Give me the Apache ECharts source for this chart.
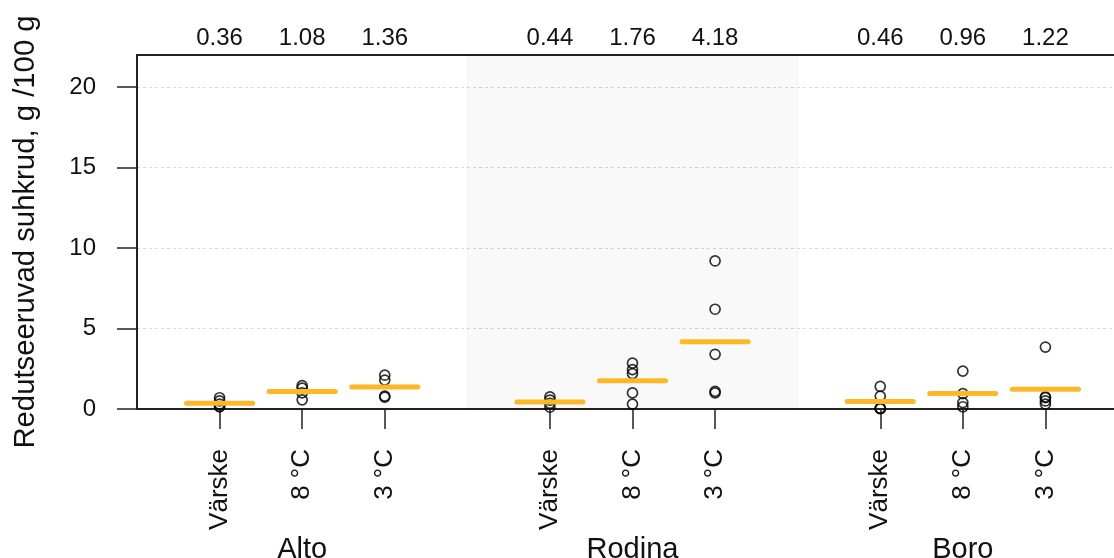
<!DOCTYPE html>
<html>
<head>
<meta charset="utf-8">
<script src="https://cdn.jsdelivr.net/npm/echarts@6/dist/echarts.min.js"></script>
<style>
  html, body { margin: 0; padding: 0; background: #ffffff; }
  #chart { width: 1114px; height: 558px; }
</style>
</head>
<body>
<div id="chart"></div>
<script>
// Potato varieties and storage conditions
const varieties = ['Alto', 'Rodina', 'Boro'];
const storage = ['Värske', '8 °C', '3 °C'];

// Individual measurements, g / 100 g (one inner list per storage condition)
const altoPoints = [
  [0.7, 0.5, 0.3, 0.15, 0.15],
  [1.45, 1.3, 1.0, 0.57],
  [2.1, 1.8, 0.8, 0.74]
];
const rodinaPoints = [
  [0.75, 0.55, 0.35, 0.11],
  [2.85, 2.45, 2.2, 1.0, 0.3],
  [9.2, 6.2, 3.4, 1.1, 1.0]
];
const boroPoints = [
  [1.4, 0.8, 0.05, 0.03, 0.02],
  [2.35, 0.95, 0.4, 0.14],
  [3.85, 0.75, 0.7, 0.5, 0.3]
];

// Group means, shown as bars and as labels above the panel
const means = [0.36, 1.08, 1.36, 0.44, 1.76, 4.18, 0.46, 0.96, 1.22];

// Y axis ticks
const yTicks = [0, 5, 10, 15, 20];

const FONT = 'Liberation Sans, Arial, Helvetica, sans-serif';
const allPoints = [altoPoints, rodinaPoints, boroPoints];

// x slot of each cell: 1-3, 5-7, 9-11 (slots 0, 4, 8, 12 are spacers)
const slotOf = (g, s) => g * 4 + s + 1;
const nSlots = 13;

const tickLabels = new Array(nSlots).fill('');
const groupLabels = new Array(nSlots).fill('');
const meanLabels = new Array(nSlots).fill('');
const meanData = [];
const pointData = [];
varieties.forEach((v, g) => {
  groupLabels[slotOf(g, 1)] = v;
  storage.forEach((s, k) => {
    const x = slotOf(g, k);
    tickLabels[x] = s;
    const m = means[g * 3 + k];
    meanLabels[x] = m.toFixed(2);
    meanData.push([x, m]);
    allPoints[g][k].forEach(val => pointData.push([x, val]));
  });
});

const chart = echarts.init(document.getElementById('chart'), null, { renderer: 'canvas' });

const axisLineStyle = { color: '#222', width: 2 };

chart.setOption({
  animation: false,
  backgroundColor: '#ffffff',
  // the panel runs slightly past the right edge of the page
  grid: { left: 137, width: 991, top: 55, height: 354, containLabel: false, outerBoundsMode: 'none' },
  xAxis: [
    { // numeric axis for the data
      type: 'value', min: 0, max: 12, show: false
    },
    { // treatment labels and ticks
      type: 'category', position: 'bottom', data: tickLabels, boundaryGap: false,
      axisLine: { show: true, onZero: false, lineStyle: axisLineStyle },
      axisTick: { show: true, length: 20, interval: (i, v) => v !== '', lineStyle: { color: '#222', width: 1.5 } },
      axisLabel: { interval: 0, rotate: 90, margin: 40, fontSize: 26, fontFamily: FONT, color: '#111' },
      splitLine: { show: false }
    },
    { // variety names
      type: 'category', position: 'bottom', data: groupLabels, boundaryGap: false,
      axisLine: { show: false, onZero: false },
      axisTick: { show: false },
      axisLabel: { interval: 0, margin: 126, fontSize: 29, fontFamily: FONT, color: '#111' },
      splitLine: { show: false }
    },
    { // group means along the top
      type: 'category', position: 'top', data: meanLabels, boundaryGap: false,
      axisLine: { show: true, onZero: false, lineStyle: axisLineStyle },
      axisTick: { show: false },
      axisLabel: { interval: 0, margin: 5, fontSize: 24, fontFamily: FONT, color: '#111' },
      splitLine: { show: false }
    }
  ],
  yAxis: {
    type: 'value', min: 0, max: 22, interval: 5,
    name: 'Redutseeruvad suhkrud, g /100 g',
    nameLocation: 'middle', nameRotate: 90, nameGap: 97,
    nameTextStyle: { fontSize: 29.3, fontFamily: FONT, color: '#111' },
    axisLine: { show: true, onZero: false, lineStyle: axisLineStyle },
    axisTick: { show: true, length: 20, customValues: yTicks, lineStyle: { color: '#222', width: 1.5 } },
    axisLabel: { customValues: yTicks, margin: 41, fontSize: 24, fontFamily: FONT, color: '#111' },
    splitLine: { show: true, lineStyle: { color: '#d8d8d8', width: 1, type: [3, 3] } }
  },
  series: [
    {
      type: 'scatter',
      xAxisIndex: 0,
      data: pointData,
      symbol: 'circle',
      symbolSize: 10,
      clip: true,
      itemStyle: { color: 'rgba(0,0,0,0)', borderColor: '#000', borderWidth: 1.7 },
      z: 3,
      markArea: {
        silent: true,
        itemStyle: { color: 'rgba(0,0,0,0.022)', borderColor: 'rgba(0,0,0,0.045)', borderWidth: 1 },
        data: [[{ xAxis: 4 }, { xAxis: 8 }]]
      }
    },
    {
      type: 'custom',
      xAxisIndex: 0,
      data: meanData,
      z: 5,
      renderItem: function (params, api) {
        const x = api.value(0), y = api.value(1);
        const p1 = api.coord([x - 0.4, y]);
        const p2 = api.coord([x + 0.4, y]);
        return {
          type: 'line',
          shape: { x1: p1[0], y1: p1[1], x2: p2[0], y2: p2[1] },
          style: { stroke: '#FDB827', lineWidth: 5, lineCap: 'round' }
        };
      }
    }
  ]
});
</script>
</body>
</html>
